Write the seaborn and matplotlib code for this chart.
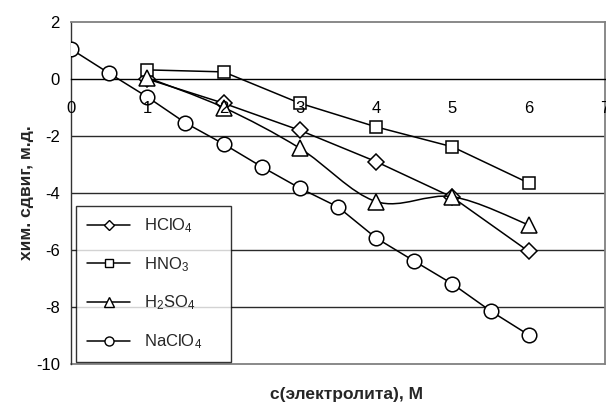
import numpy as np
import pandas as pd
import seaborn as sns
import matplotlib
matplotlib.use("Agg")
import matplotlib.pyplot as plt
from matplotlib.lines import Line2D
from matplotlib.path import Path
from matplotlib.patches import PathPatch

# Chemical shift vs. electrolyte concentration
conc_acid = [1, 2, 3, 4, 5, 6]
shift_hclo4 = [0.0, -0.85, -1.8, -2.9, -4.15, -6.05]
shift_hno3 = [0.32, 0.25, -0.85, -1.68, -2.38, -3.65]
shift_h2so4 = [0.05, -1.0, -2.43, -4.3, -4.13, -5.12]

conc_salt = [0, 0.5, 1, 1.5, 2, 2.5, 3, 3.5, 4, 4.5, 5, 5.5, 6]
shift_naclo4 = [1.05, 0.2, -0.63, -1.54, -2.28, -3.08, -3.83, -4.49, -5.58, -6.39, -7.19, -8.14, -8.98]

labels = ["HClO$_4$", "HNO$_3$", "H$_2$SO$_4$", "NaClO$_4$"]
x_ticks = [0, 1, 2, 3, 4, 5, 6, 7]
y_ticks = [-10, -8, -6, -4, -2, 0, 2]
x_label = "с(электролита), М"
y_label = "хим. сдвиг, м.д."

sns.set_style("white")
plt.rcParams["font.family"] = ["Liberation Sans", "DejaVu Sans"]
plt.rcParams["mathtext.fontset"] = "custom"
plt.rcParams["mathtext.rm"] = "Liberation Sans"
plt.rcParams["mathtext.default"] = "regular"

fig = plt.figure(figsize=(6.06, 4.05), dpi=100)
ax = fig.add_axes([71 / 606, 41 / 405, 534 / 606, 342 / 405])

grid_col = "#2a2a2a"
for yv in y_ticks:
    if yv not in (0, 2, -10):
        ax.axhline(yv, color=grid_col, lw=1.0, zorder=0)

common = dict(color="black", markerfacecolor="white", markeredgecolor="black",
              markeredgewidth=1.1, linewidth=1.1, ax=ax, legend=False)

df_acid = pd.DataFrame({"c": conc_acid, "HClO4": shift_hclo4,
                        "HNO3": shift_hno3, "H2SO4": shift_h2so4})
df_salt = pd.DataFrame({"c": conc_salt, "NaClO4": shift_naclo4})

sns.lineplot(data=df_acid, x="c", y="HClO4", marker="D", markersize=8.5, zorder=3, **common)
sns.lineplot(data=df_acid, x="c", y="HNO3", marker="s", markersize=8.5, zorder=3, **common)

# H2SO4 drawn with a smoothed connecting curve (Catmull-Rom as cubic Bezier)
px = np.asarray(conc_acid, float)
py = np.asarray(shift_h2so4, float)
verts = [(px[0], py[0])]
codes = [Path.MOVETO]
n = len(px)
for i in range(n - 1):
    p0 = np.array([px[max(i - 1, 0)], py[max(i - 1, 0)]])
    p1 = np.array([px[i], py[i]])
    p2 = np.array([px[i + 1], py[i + 1]])
    p3 = np.array([px[min(i + 2, n - 1)], py[min(i + 2, n - 1)]])
    c1 = p1 + (p2 - p0) / 6.0
    c2 = p2 - (p3 - p1) / 6.0
    verts += [tuple(c1), tuple(c2), tuple(p2)]
    codes += [Path.CURVE4] * 3
ax.add_patch(PathPatch(Path(verts, codes), facecolor="none", edgecolor="black",
                       lw=1.1, zorder=3))
sns.lineplot(data=df_acid, x="c", y="H2SO4", marker="^", markersize=11,
             zorder=4, **{**common, "linewidth": 0})

sns.lineplot(data=df_salt, x="c", y="NaClO4", marker="o", markersize=10.5, zorder=5, **common)

ax.set_xlim(0, 7)
ax.set_ylim(-10, 2)
ax.set_xticks(x_ticks)
ax.set_yticks(y_ticks)
ax.set_xticklabels([str(t) for t in x_ticks])
ax.set_yticklabels([str(t) for t in y_ticks])

ax.spines["bottom"].set_position(("data", 0))
ax.spines["bottom"].set_color("black")
ax.spines["bottom"].set_linewidth(1.0)
ax.spines["left"].set_color("#333333")
ax.spines["left"].set_linewidth(1.0)
for s in ("top", "right"):
    ax.spines[s].set_visible(True)
    ax.spines[s].set_color("#808080")
    ax.spines[s].set_linewidth(1.3)
ax.axhline(-10, color="#808080", lw=1.3, zorder=1, clip_on=False)

ax.tick_params(axis="x", direction="out", length=5, width=1, pad=11,
               labelsize=12, colors="black")
ax.tick_params(axis="y", direction="out", length=5, width=1, pad=3,
               labelsize=12, colors="black")
# tick labels of the x axis sit on top of the markers
ax.xaxis.set_zorder(5.5)
ax.set_xlabel("")
ax.set_ylabel("")

fig.text(26 / 606, 1 - 193 / 405, y_label, rotation=90, ha="center", va="center",
         fontsize=12.5, fontweight="bold")
fig.text(346 / 606, 1 - 395 / 405, x_label, ha="center", va="center",
         fontsize=12.5, fontweight="bold")

handles = [
    Line2D([], [], color="black", marker="D", markersize=5.5, markerfacecolor="white", lw=1.1),
    Line2D([], [], color="black", marker="s", markersize=6, markerfacecolor="white", lw=1.1),
    Line2D([], [], color="black", marker="^", markersize=7, markerfacecolor="white", lw=1.1),
    Line2D([], [], color="black", marker="o", markersize=6.5, markerfacecolor="white", lw=1.1),
]
leg = ax.legend(handles, labels, loc="lower left",
                bbox_to_anchor=(5 / 534, 2 / 342, 155 / 534, 155 / 342),
                mode="expand", frameon=True, fancybox=False, fontsize=12,
                handlelength=2.6, labelspacing=1.2, borderpad=0.65,
                handletextpad=0.8, borderaxespad=0)
leg.get_frame().set_edgecolor("black")
leg.get_frame().set_linewidth(1.0)
leg.set_zorder(6)

fig.savefig("out.png", dpi=100, facecolor="white")
